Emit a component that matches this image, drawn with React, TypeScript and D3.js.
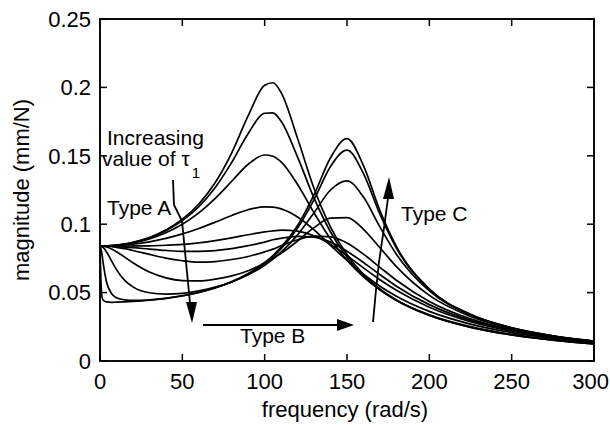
import React from 'react';
import * as d3 from 'd3';

// frequency samples (rad/s)
const freq = [0, 1, 2, 4, 7, 10, 15, 20, 30, 40, 50, 60, 70, 80, 90, 100, 105, 110, 120, 130, 140, 150, 160, 170, 180, 200, 225, 250, 275, 300];

// magnitude (mm/N), one array per value of tau1 (increasing)
const curve1 = [0.0840, 0.0840, 0.0841, 0.0841, 0.0844, 0.0847, 0.0855, 0.0867, 0.0903, 0.0957, 0.1036, 0.1148, 0.1305, 0.1522, 0.1793, 0.2016, 0.2034, 0.1962, 0.1627, 0.1261, 0.0979, 0.0778, 0.0633, 0.0527, 0.0446, 0.0334, 0.0246, 0.0190, 0.0152, 0.0125];
const curve2 = [0.0840, 0.0840, 0.0841, 0.0841, 0.0843, 0.0847, 0.0855, 0.0866, 0.0900, 0.0952, 0.1026, 0.1128, 0.1269, 0.1452, 0.1663, 0.1811, 0.1814, 0.1752, 0.1490, 0.1190, 0.0943, 0.0759, 0.0623, 0.0521, 0.0443, 0.0333, 0.0247, 0.0191, 0.0153, 0.0125];
const curve3 = [0.0840, 0.0840, 0.0841, 0.0841, 0.0843, 0.0846, 0.0853, 0.0863, 0.0893, 0.0938, 0.1000, 0.1083, 0.1189, 0.1314, 0.1438, 0.1506, 0.1497, 0.1455, 0.1290, 0.1083, 0.0892, 0.0737, 0.0615, 0.0520, 0.0445, 0.0338, 0.0251, 0.0195, 0.0156, 0.0128];
const curve4 = [0.0840, 0.0840, 0.0840, 0.0841, 0.0842, 0.0844, 0.0848, 0.0854, 0.0871, 0.0896, 0.0929, 0.0969, 0.1015, 0.1064, 0.1106, 0.1127, 0.1125, 0.1112, 0.1053, 0.0958, 0.0846, 0.0735, 0.0634, 0.0547, 0.0474, 0.0363, 0.0270, 0.0208, 0.0165, 0.0134];
const curve5 = [0.0840, 0.0840, 0.0840, 0.0840, 0.0840, 0.0840, 0.0840, 0.0841, 0.0842, 0.0846, 0.0852, 0.0864, 0.0880, 0.0900, 0.0923, 0.0944, 0.0951, 0.0957, 0.0949, 0.0915, 0.0852, 0.0770, 0.0681, 0.0594, 0.0517, 0.0393, 0.0287, 0.0218, 0.0172, 0.0139];
const curve6 = [0.0840, 0.0840, 0.0840, 0.0840, 0.0839, 0.0837, 0.0833, 0.0829, 0.0818, 0.0808, 0.0801, 0.0801, 0.0807, 0.0821, 0.0843, 0.0869, 0.0886, 0.0897, 0.0911, 0.0906, 0.0869, 0.0802, 0.0720, 0.0631, 0.0547, 0.0412, 0.0297, 0.0224, 0.0174, 0.0140];
const curve7 = [0.0840, 0.0840, 0.0840, 0.0839, 0.0836, 0.0831, 0.0821, 0.0808, 0.0779, 0.0752, 0.0733, 0.0723, 0.0727, 0.0742, 0.0764, 0.0798, 0.0818, 0.0842, 0.0886, 0.0913, 0.0908, 0.0863, 0.0781, 0.0685, 0.0590, 0.0435, 0.0308, 0.0229, 0.0177, 0.0142];
const curve8 = [0.0840, 0.0840, 0.0839, 0.0833, 0.0819, 0.0799, 0.0759, 0.0718, 0.0650, 0.0608, 0.0588, 0.0585, 0.0598, 0.0622, 0.0660, 0.0716, 0.0750, 0.0787, 0.0877, 0.0975, 0.1044, 0.1048, 0.0963, 0.0828, 0.0690, 0.0480, 0.0326, 0.0237, 0.0181, 0.0144];
const curve9 = [0.0840, 0.0837, 0.0828, 0.0797, 0.0732, 0.0668, 0.0590, 0.0542, 0.0499, 0.0489, 0.0495, 0.0513, 0.0540, 0.0578, 0.0630, 0.0700, 0.0745, 0.0796, 0.0922, 0.1084, 0.1250, 0.1317, 0.1198, 0.0980, 0.0780, 0.0512, 0.0336, 0.0241, 0.0183, 0.0145];
const curve10 = [0.0840, 0.0797, 0.0710, 0.0576, 0.0493, 0.0463, 0.0447, 0.0443, 0.0447, 0.0458, 0.0476, 0.0501, 0.0534, 0.0577, 0.0635, 0.0713, 0.0762, 0.0821, 0.0972, 0.1180, 0.1422, 0.1542, 0.1370, 0.1073, 0.0825, 0.0524, 0.0340, 0.0242, 0.0184, 0.0145];
const curve11 = [0.0840, 0.0486, 0.0444, 0.0432, 0.0429, 0.0430, 0.0432, 0.0435, 0.0444, 0.0458, 0.0477, 0.0502, 0.0536, 0.0580, 0.0639, 0.0720, 0.0771, 0.0832, 0.0991, 0.1216, 0.1486, 0.1625, 0.1428, 0.1100, 0.0837, 0.0527, 0.0341, 0.0243, 0.0184, 0.0145];

const curves = [curve1, curve2, curve3, curve4, curve5, curve6, curve7, curve8, curve9, curve10, curve11];

const xTicks = [0, 50, 100, 150, 200, 250, 300];
const xTickLabels = ['0', '50', '100', '150', '200', '250', '300'];
const yTicks = [0, 0.05, 0.1, 0.15, 0.2, 0.25];
const yTickLabels = ['0', '0.05', '0.1', '0.15', '0.2', '0.25'];

const FONT = '"Liberation Sans", Arial, Helvetica, sans-serif';

export default function App() {
  const W = 610;
  const H = 425;
  const x = d3.scaleLinear().domain([0, 300]).range([100, 594]);
  const y = d3.scaleLinear().domain([0, 0.25]).range([361, 19]);
  const line = d3
    .line<number>()
    .x((_, i) => x(freq[i]))
    .y((d) => y(d))
    .curve(d3.curveMonotoneX);

  const [x0, x1] = x.range();
  const [yb, yt] = y.range();
  const tickLen = 7;

  return (
    <svg
      width={W}
      height={H}
      viewBox={`0 0 ${W} ${H}`}
      style={{ position: 'absolute', left: 0, top: 0, background: '#fff' }}
      fontFamily={FONT}
    >
      <rect x={0} y={0} width={W} height={H} fill="#fff" />
      <defs>
        <clipPath id="plotclip">
          <rect x={x0} y={yt} width={x1 - x0} height={yb - yt} />
        </clipPath>
      </defs>

      {/* curves */}
      <g clipPath="url(#plotclip)" fill="none" stroke="#000" strokeWidth={1.7} strokeLinejoin="round">
        {curves.map((c, i) => (
          <path key={i} d={line(c) || ''} />
        ))}
      </g>

      {/* frame */}
      <rect x={x0} y={yt} width={x1 - x0} height={yb - yt} fill="none" stroke="#000" strokeWidth={1.9} />

      {/* ticks */}
      <g stroke="#000" strokeWidth={1.5}>
        {xTicks.map((t) => (
          <g key={'xt' + t}>
            <line x1={x(t)} x2={x(t)} y1={yb} y2={yb - tickLen} />
            <line x1={x(t)} x2={x(t)} y1={yt} y2={yt + tickLen} />
          </g>
        ))}
        {yTicks.map((t) => (
          <g key={'yt' + t}>
            <line x1={x0} x2={x0 + tickLen} y1={y(t)} y2={y(t)} />
            <line x1={x1} x2={x1 - tickLen} y1={y(t)} y2={y(t)} />
          </g>
        ))}
      </g>

      {/* tick labels */}
      <g fontSize={22} fill="#000">
        {xTicks.map((t, i) => (
          <text
            key={'xl' + t}
            x={i === xTicks.length - 1 ? 609 : x(t)}
            y={389}
            textAnchor={i === xTicks.length - 1 ? 'end' : 'middle'}
          >
            {xTickLabels[i]}
          </text>
        ))}
        {yTicks.map((t, i) => (
          <text key={'yl' + t} x={91} y={y(t) + 7.8} textAnchor="end">
            {yTickLabels[i]}
          </text>
        ))}
      </g>

      {/* axis titles */}
      <text x={(x0 + x1) / 2 - 2} y={417} textAnchor="middle" fontSize={22}>
        frequency (rad/s)
      </text>
      <text
        x={29}
        y={190}
        textAnchor="middle"
        fontSize={22}
        transform="rotate(-90, 29, 190)"
      >
        magnitude (mm/N)
      </text>

      {/* annotations */}
      <g fontSize={21} fill="#000">
        <text x={107} y={145}>Increasing</text>
        <text x={102} y={166}>
          value of τ
          <tspan fontSize={15} dx={2} dy={12}>1</tspan>
        </text>
        <text x={107} y={215}>Type A</text>
        <text x={240} y={343}>Type B</text>
        <text x={401} y={221}>Type C</text>
      </g>

      <g stroke="#000" strokeWidth={1.8} fill="none">
        <path d="M173,180 L174,205 L182,221 L190,303" />
        <path d="M203,325 L340,325" />
        <path d="M373,322 L376,290 L379,262 L384,228 L388,198" />
      </g>
      <g fill="#000" stroke="none">
        <path d="M186,302 L197,302 L192,323 Z" />
        <path d="M337,319 L337,331 L354,325 Z" />
        <path d="M383,199 L394,199 L389,177 Z" />
      </g>
    </svg>
  );
}
